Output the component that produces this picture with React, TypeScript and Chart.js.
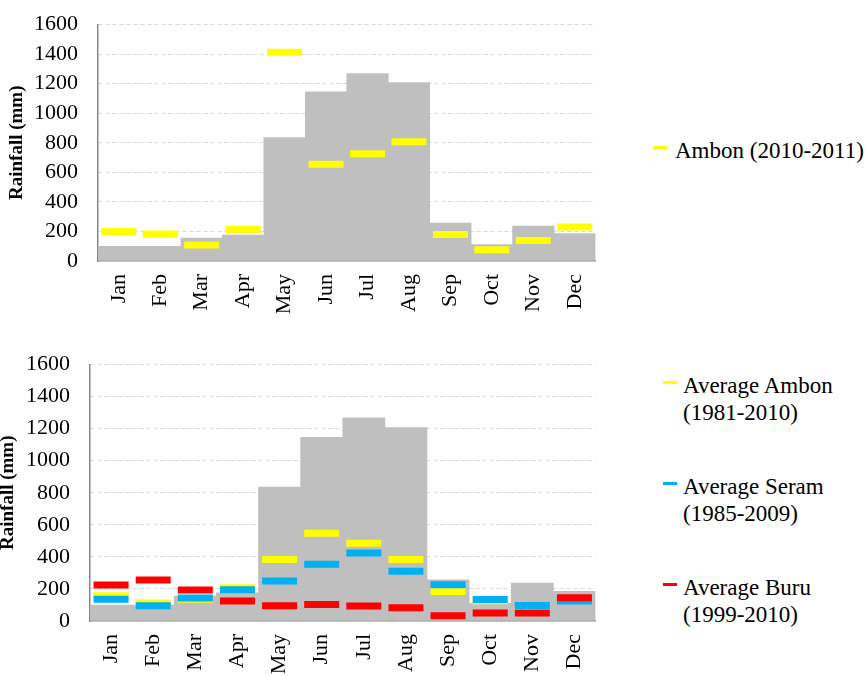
import React, { useEffect, useRef } from "react";
import { Chart, registerables } from "chart.js";

Chart.register(...registerables);

const months = ["Jan", "Feb", "Mar", "Apr", "May", "Jun", "Jul", "Aug", "Sep", "Oct", "Nov", "Dec"];
const greyRain = [100, 100, 155, 175, 835, 1145, 1268, 1207, 257, 111, 237, 185];
const ambon2010 = [200, 182, 108, 213, 1413, 655, 726, 806, 180, 76, 139, 230];
const avgAmbon = [157, 112, 135, 207, 383, 547, 485, 383, 184, 126, 70, 140];
const avgSeram = [135, 95, 144, 195, 249, 354, 424, 310, 226, 134, 96, 124];
const avgBuru = [225, 256, 194, 125, 95, 103, 94, 82, 33, 50, 50, 145];
const yTicks = [0, 200, 400, 600, 800, 1000, 1200, 1400, 1600];

const FONT = "'Liberation Serif', 'Times New Roman', serif";
const YELLOW = "#FFFF00";
const BLUE = "#00B0F0";
const RED = "#FF0000";
const GREY = "#BFBFBF";

type Marker = { label: string; data: number[]; color: string; order: number };

function makeConfig(markers: Marker[], yAxisWidth: number, xAxisHeight: number, padTop: number, titlePad: number) {
  const datasets: any[] = [
    {
      type: "bar",
      label: "Rainfall",
      data: greyRain,
      backgroundColor: GREY,
      borderWidth: 0,
      categoryPercentage: 1,
      barPercentage: 1,
      order: 10,
    },
  ];
  markers.forEach((m) => {
    datasets.push({
      type: "line",
      label: m.label,
      data: m.data,
      showLine: false,
      pointStyle: "line",
      pointRadius: 17.5,
      pointHoverRadius: 17.5,
      pointBorderWidth: 7,
      pointHoverBorderWidth: 7,
      borderColor: m.color,
      backgroundColor: m.color,
      order: m.order,
    });
  });
  return {
    type: "bar",
    data: { labels: months, datasets },
    options: {
      animation: false,
      responsive: false,
      maintainAspectRatio: false,
      layout: { padding: { top: padTop, right: 20, left: 0, bottom: 0 } },
      plugins: { legend: { display: false }, tooltip: { enabled: false } },
      scales: {
        x: {
          grid: { display: false, drawTicks: false },
          border: { display: true, color: "#868686", width: 1.5 },
          ticks: {
            color: "#000",
            font: { family: FONT, size: 22 },
            minRotation: 90,
            maxRotation: 90,
            padding: 13,
            autoSkip: false,
          },
          afterFit: (scale: any) => {
            scale.height = xAxisHeight;
          },
        },
        y: {
          min: 0,
          max: 1600,
          afterBuildTicks: (scale: any) => {
            scale.ticks = yTicks.map((v) => ({ value: v }));
          },
          grid: {
            color: (ctx: any) => (ctx.tick && ctx.tick.value === 0 ? "rgba(0,0,0,0)" : "#D9D9D9"),
            lineWidth: 1,
            drawTicks: false,
          },
          border: { display: true, color: "#868686", width: 1.5, dash: [4, 3] },
          ticks: {
            color: "#000",
            font: { family: FONT, size: 22 },
            padding: 20,
            autoSkip: false,
            callback: (v: any) => String(v),
          },
          title: {
            display: true,
            text: "Rainfall (mm)",
            color: "#000",
            font: { family: FONT, size: 19, weight: "bold" },
            padding: { top: titlePad, bottom: 0 },
          },
          afterFit: (scale: any) => {
            scale.width = yAxisWidth;
            scale.paddingTop = 0;
            scale.paddingBottom = 0;
          },
        },
      },
    },
  };
}

function ChartCanvas(props: { config: any; width: number; height: number; style: React.CSSProperties }) {
  const ref = useRef<HTMLCanvasElement | null>(null);
  useEffect(() => {
    if (!ref.current) return;
    const chart = new Chart(ref.current, props.config);
    return () => chart.destroy();
  }, []);
  return <canvas ref={ref} width={props.width} height={props.height} style={{ position: "absolute", width: props.width, height: props.height, ...props.style }} />;
}

const legendText: React.CSSProperties = {
  position: "absolute",
  fontFamily: FONT,
  fontSize: 23,
  lineHeight: "26.5px",
  color: "#000",
  whiteSpace: "nowrap",
};

function LegendMark(props: { x: number; y: number; color: string }) {
  return <div style={{ position: "absolute", left: props.x, top: props.y - 1.5, width: 14, height: 3, background: props.color }} />;
}

export default function App() {
  const topConfig = makeConfig([{ label: "Ambon (2010-2011)", data: ambon2010, color: YELLOW, order: 3 }], 98, 69, 15, 6);
  const bottomConfig = makeConfig(
    [
      { label: "Average Ambon (1981-2010)", data: avgAmbon, color: YELLOW, order: 3 },
      { label: "Average Seram (1985-2009)", data: avgSeram, color: BLUE, order: 2 },
      { label: "Average Buru (1999-2010)", data: avgBuru, color: RED, order: 1 },
    ],
    99,
    55,
    22,
    6
  );
  const items = [
    { a: "Average Ambon", b: "(1981-2010)", color: YELLOW, y: 382 },
    { a: "Average Seram", b: "(1985-2009)", color: BLUE, y: 483 },
    { a: "Average Buru", b: "(1999-2010)", color: RED, y: 584 },
  ];
  return (
    <div style={{ position: "fixed", left: 0, top: 0, width: 865, height: 676, background: "#fff", overflow: "hidden" }}>
      <ChartCanvas config={topConfig} width={620} height={330} style={{ left: 0, top: 0 }} />
      <ChartCanvas config={bottomConfig} width={629} height={336} style={{ left: -9, top: 340 }} />
      <LegendMark x={653} y={147} color={YELLOW} />
      <div style={{ ...legendText, left: 675, top: 151.7 - 13.25 }}>Ambon (2010-2011)</div>
      {items.map((it) => (
        <React.Fragment key={it.a}>
          <LegendMark x={663} y={it.y} color={it.color} />
          <div style={{ ...legendText, left: 683, top: it.y + 4.7 - 13.25 }}>
            {it.a}
            <br />
            {it.b}
          </div>
        </React.Fragment>
      ))}
    </div>
  );
}
